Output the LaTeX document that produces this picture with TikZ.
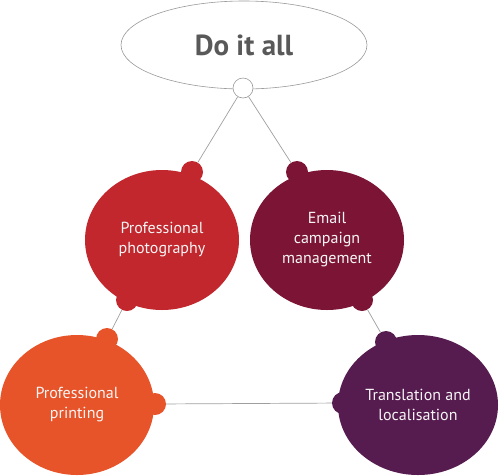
\documentclass[tikz,border=0pt]{standalone}
\usepackage{fontspec}
\setmainfont{PT Sans}
\usetikzlibrary{shapes.geometric}

\definecolor{photored}{HTML}{C1272D}
\definecolor{mailred}{HTML}{7C1535}
\definecolor{printorange}{HTML}{E8542A}
\definecolor{transpurple}{HTML}{561B4F}

\begin{document}
\begin{tikzpicture}[
        x=1pt, y=-1pt,
        blob/.style = {ellipse, minimum width=154pt, minimum height=140pt, inner sep=0pt, align=center, text=white!92!gray, font=\fontsize{16}{20}\selectfont},
        knob/.style = {circle, minimum size=22pt, inner sep=0pt},
        link/.style = {draw=gray!75, line width=0.7pt}
]
        \useasboundingbox (0,0) rectangle (500,475);

        % goal at the top
        \node[ellipse, draw=gray!80, line width=0.6pt, minimum width=246pt, minimum height=88pt, text=black!65, font=\fontsize{29}{34}\selectfont\bfseries] (goal) at (244,45) {Do it all};
        \node[circle, draw=gray!80, fill=white, line width=0.6pt, minimum size=20pt, inner sep=0pt] (hub) at (243,88) {};

        % the four services
        \node[blob, fill=photored] (photo) at (162,240) {Professional\\photography};
        \node[knob, fill=photored] (photoA) at (192,172) {};
        \node[knob, fill=photored] (photoB) at (127,300) {};

        \node[blob, fill=mailred] (mail) at (327,240) {Email\\campaign\\management};
        \node[knob, fill=mailred] (mailA) at (297,172) {};
        \node[knob, fill=mailred] (mailB) at (362,300) {};

        \node[blob, fill=printorange] (print) at (77,405) {Professional\\printing};
        \node[knob, fill=printorange] (printA) at (107,339) {};
        \node[knob, fill=printorange] (printB) at (155,404) {};

        \node[blob, fill=transpurple, minimum width=160pt] (trans) at (418,405) {Translation and\\localisation};
        \node[knob, fill=transpurple] (transA) at (386,342) {};
        \node[knob, fill=transpurple] (transB) at (343,403) {};

        % connectors
        \draw[link] (hub) -- (photoA);
        \draw[link] (hub) -- (mailA);
        \draw[link] (photoB) -- (printA);
        \draw[link] (mailB) -- (transA);
        \draw[link] (printB) -- (transB);
\end{tikzpicture}
\end{document}
